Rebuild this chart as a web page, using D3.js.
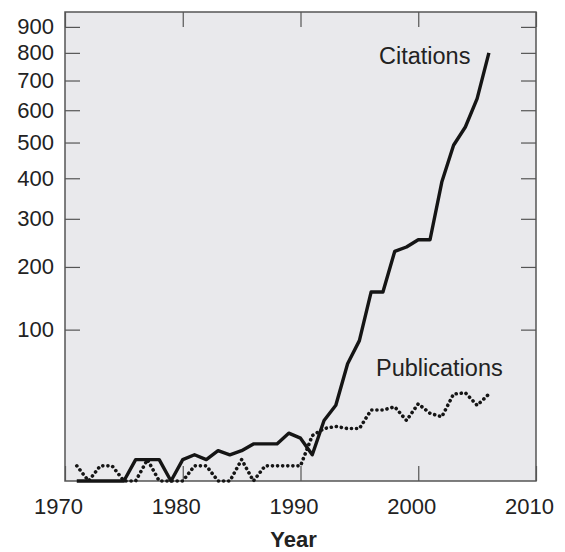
<!DOCTYPE html>
<html>
<head>
<meta charset="utf-8">
<script src="https://cdn.jsdelivr.net/npm/d3@7"></script>
<style>
  html, body { margin: 0; padding: 0; background: #fff; }
  svg { display: block; }
  text { font-family: "Liberation Sans", Arial, Helvetica, sans-serif; fill: #222; }
</style>
</head>
<body>
<svg id="chart" width="565" height="552"></svg>
<script>
// Yearly counts, 1971–2006
const years = d3.range(1971, 2007);
const citations = [
  0, 0, 0, 0, 0, 2, 2, 2, 0, 2,
  3, 2, 4, 3, 4, 6, 6, 6, 10, 8,
  3, 16, 25, 60, 86, 156, 156, 230, 239, 254,
  254, 390, 492, 547, 638, 800
];
const publications = [
  1, 0, 1, 1, 0, 0, 2, 0, 0, 0,
  1, 1, 0, 0, 2, 0, 1, 1, 1, 1,
  9, 12, 13, 12, 12, 22, 22, 24, 16, 26,
  20, 18, 33, 34, 25, 33
];
const xTicks = [1970, 1980, 1990, 2000, 2010];
const yTicks = [100, 200, 300, 400, 500, 600, 700, 800, 900];
const xLabel = "Year";

const svg = d3.select("#chart");
const plotLeft = 65, plotRight = 536, plotTop = 12, plotBottom = 481;

const x = d3.scaleLinear().domain([1970, 2010]).range([plotLeft, plotRight]);
const y = d3.scaleSqrt().domain([0, 960]).range([plotBottom, plotTop]);

// plot panel
svg.append("rect")
  .attr("x", plotLeft).attr("y", plotTop)
  .attr("width", plotRight - plotLeft).attr("height", plotBottom - plotTop)
  .attr("fill", "#e9e9ec");

const tickStyle = g => {
  g.select(".domain").remove();
  g.selectAll(".tick line").attr("stroke", "#555").attr("stroke-width", 1.2);
  g.selectAll("text").attr("font-size", 22).attr("fill", "#222")
    .attr("font-family", "Liberation Sans, Arial, sans-serif");
};

// bottom axis: inward ticks with labels
svg.append("g")
  .attr("transform", `translate(0,${plotBottom})`)
  .call(d3.axisBottom(x).tickValues(xTicks).tickFormat(d3.format("d"))
    .tickSizeInner(-15).tickSizeOuter(0).tickPadding(17.5))
  .call(tickStyle)
  .call(g => g.selectAll("text").attr("dx", -7));

// top axis: ticks only
svg.append("g")
  .attr("transform", `translate(0,${plotTop})`)
  .call(d3.axisTop(x).tickValues(xTicks).tickFormat("")
    .tickSizeInner(-15).tickSizeOuter(0))
  .call(tickStyle);

// left axis: inward ticks with labels
svg.append("g")
  .attr("transform", `translate(${plotLeft},0)`)
  .call(d3.axisLeft(y).tickValues(yTicks).tickFormat(d3.format("d"))
    .tickSizeInner(-15).tickSizeOuter(0).tickPadding(11))
  .call(tickStyle);

// right axis: ticks only
svg.append("g")
  .attr("transform", `translate(${plotRight},0)`)
  .call(d3.axisRight(y).tickValues(yTicks).tickFormat("")
    .tickSizeInner(-15).tickSizeOuter(0))
  .call(tickStyle);

// frame
svg.append("rect")
  .attr("x", plotLeft).attr("y", plotTop)
  .attr("width", plotRight - plotLeft).attr("height", plotBottom - plotTop)
  .attr("fill", "none").attr("stroke", "#555").attr("stroke-width", 1.5);

const line = d3.line()
  .x((d, i) => x(years[i]))
  .y(d => y(d));

// publications: dotted
svg.append("path")
  .datum(publications)
  .attr("d", line)
  .attr("fill", "none")
  .attr("stroke", "#151515")
  .attr("stroke-width", 3.6)
  .attr("stroke-linecap", "round")
  .attr("stroke-linejoin", "round")
  .attr("stroke-dasharray", "0.1 5");

// citations: solid
svg.append("path")
  .datum(citations)
  .attr("d", line)
  .attr("fill", "none")
  .attr("stroke", "#151515")
  .attr("stroke-width", 3.4)
  .attr("stroke-linejoin", "round");

// series labels
svg.append("text")
  .attr("x", 379).attr("y", 64)
  .attr("font-size", 23.5)
  .text("Citations");

svg.append("text")
  .attr("x", 376).attr("y", 376)
  .attr("font-size", 23.5)
  .text("Publications");

// x axis title
svg.append("text")
  .attr("x", x(1990) - 7).attr("y", 546.5)
  .attr("text-anchor", "middle")
  .attr("font-size", 22)
  .attr("font-weight", "bold")
  .text(xLabel);
</script>
</body>
</html>
